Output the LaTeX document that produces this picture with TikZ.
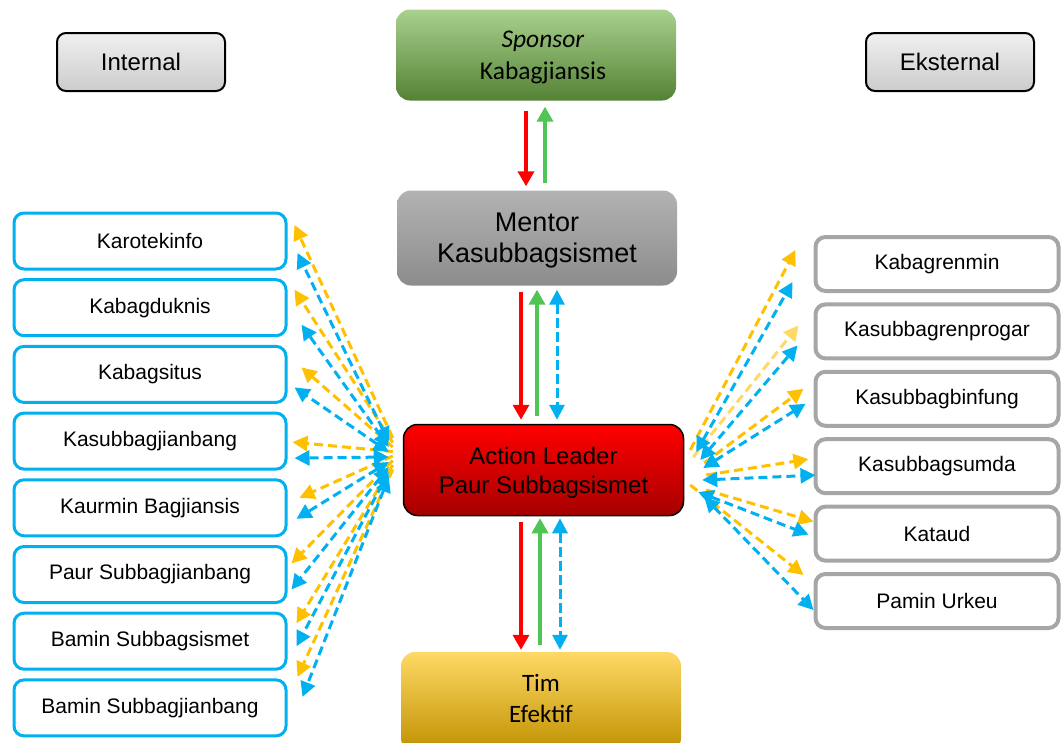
\documentclass[tikz,border=0pt]{standalone}
\usepackage{fontspec}
\setmainfont{Liberation Sans}
\newfontfamily\calibri{Carlito}
\usetikzlibrary{arrows.meta, positioning, calc}
\definecolor{intblue}{HTML}{00B0F0}
\definecolor{extgray}{HTML}{A6A6A6}
\definecolor{flowyel}{HTML}{FFC000}
\definecolor{paleyel}{HTML}{FFD966}
\definecolor{flowred}{HTML}{FF0000}
\definecolor{flowgreen}{HTML}{50C455}
\definecolor{sponlight}{HTML}{A9D18E}
\definecolor{spondark}{HTML}{548235}

\begin{document}
\begin{tikzpicture}[x=1pt, y=-1pt,
  core/.style={
    rectangle, rounded corners=14pt, minimum width=280pt, minimum height=91pt,
    align=center, font=\fontsize{25}{30}\selectfont
  },
  headbox/.style={
    rectangle, rounded corners=9pt, draw=black, line width=2pt,
    top color=gray!12, bottom color=gray!40,
    minimum width=168pt, minimum height=58pt, font=\fontsize{24}{28}\selectfont
  },
  intbox/.style={
    rectangle, rounded corners=10pt, draw=intblue, line width=3pt, fill=white,
    minimum width=272pt, minimum height=56pt, font=\fontsize{21}{25}\selectfont
  },
  extbox/.style={intbox, draw=extgray, line width=4pt, minimum width=243pt, minimum height=54pt},
  redarr/.style={-{Triangle[length=15pt, width=16pt]}, line width=3.5pt, flowred},
  greenarr/.style={redarr, flowgreen},
  yarr/.style={-{Triangle[length=15pt, width=15pt]}, line width=3pt, dash pattern=on 9pt off 5pt, flowyel},
  pyarr/.style={yarr, paleyel},
  barr/.style={{Triangle[length=15pt, width=15pt]}-{Triangle[length=15pt, width=15pt]}, line width=3pt, dash pattern=on 9pt off 5pt, intblue}
]
  \useasboundingbox (0,0) rectangle (1063,742);

  % centre column
  \node[core, top color=sponlight, bottom color=spondark, text depth=-10pt, font=\calibri\fontsize{25.5}{32}\selectfont] (spon) at (536,55) {\hspace*{14pt}\textit{Sponsor}\\\hspace*{14pt}Kabagjiansis};
  \node[core, top color=black!30, bottom color=black!45, minimum height=95pt, text depth=-7pt, font=\fontsize{27}{31}\selectfont] (ment) at (537,238) {Mentor\\Kasubbagsismet};
  \node[core, draw=black, line width=1.5pt, top color=flowred, bottom color=red!65!black, text depth=-5pt, font=\fontsize{24}{29}\selectfont] (act) at (543.5,470) {Action Leader\\Paur Subbagsismet};
  \node[core, top color=paleyel, middle color=flowyel, bottom color=flowyel!75!black, minimum height=100pt, text depth=8pt, font=\calibri\fontsize{25}{31}\selectfont] (tim) at (541,702) {Tim\\Efektif};

  \node[headbox] (int) at (141,62) {Internal};
  \node[headbox] (eks) at (950,62) {Eksternal};

  % internal
  \node[intbox] (k1) at (150,241) {Karotekinfo};
  \node[intbox, below=7.7pt of k1] (k2) {Kabagduknis};
  \node[intbox, below=7.7pt of k2] (k3) {Kabagsitus};
  \node[intbox, below=7.7pt of k3] (k4) {Kasubbagjianbang};
  \node[intbox, below=7.7pt of k4] (k5) {Kaurmin Bagjiansis};
  \node[intbox, below=7.7pt of k5] (k6) {Paur Subbagjianbang};
  \node[intbox, below=7.7pt of k6] (k7) {Bamin Subbagsismet};
  \node[intbox, below=7.7pt of k7] (k8) {Bamin Subbagjianbang};

  % eksternal
  \node[extbox] (e1) at (937,264) {Kabagrenmin};
  \node[extbox, below=9.4pt of e1] (e2) {Kasubbagrenprogar};
  \node[extbox, below=9.4pt of e2] (e3) {Kasubbagbinfung};
  \node[extbox, below=9.4pt of e3] (e4) {Kasubbagsumda};
  \node[extbox, below=9.4pt of e4] (e5) {Kataud};
  \node[extbox, below=9.4pt of e5] (e6) {Pamin Urkeu};

  % vertical flows
  \draw[redarr, shorten <=10pt, shorten >=4pt] ([xshift=-10pt]spon.south) -- ([xshift=-10pt]spon.south |- ment.north);
  \draw[greenarr, shorten <=7pt, shorten >=6pt] ([xshift=9pt]spon.south |- ment.north) -- ([xshift=9pt]spon.south);
  \draw[redarr, shorten <=6pt, shorten >=4pt] ([xshift=-16pt]ment.south) -- ([xshift=-16pt]ment.south |- act.north);
  \draw[greenarr, shorten <=8pt, shorten >=4pt] (ment.south |- act.north) -- (ment.south);
  \draw[barr, dash pattern=on 10pt off 4pt, shorten <=4pt, shorten >=4pt] ([xshift=20pt]ment.south) -- ([xshift=20pt]ment.south |- act.north);
  \draw[redarr, shorten <=6pt, shorten >=2pt] ([xshift=-22.5pt]act.south) -- ([xshift=-22.5pt]act.south |- tim.north);
  \draw[greenarr, shorten <=7pt, shorten >=2pt] ([xshift=-3.5pt]act.south |- tim.north) -- ([xshift=-3.5pt]act.south);
  \draw[barr, dash pattern=on 10pt off 4pt, shorten <=2pt, shorten >=2pt] ([xshift=16.5pt]act.south) -- ([xshift=16.5pt]act.south |- tim.north);

  % internal flows
  \draw[yarr] ($(act.west)+(-10,-32)$) -- ($(k1.east)+(7,-16)$);
  \draw[yarr] ($(act.west)+(-10,-27.5)$) -- ($(k2.east)+(7,-18)$);
  \draw[yarr] ($(act.west)+(-10,-23)$) -- ($(k3.east)+(14,-7)$);
  \draw[yarr] ($(act.west)+(-10,-18.5)$) -- ($(k4.east)+(5,1)$);
  \draw[yarr] ($(act.west)+(-10,-14)$) -- ($(k5.east)+(12,-10)$);
  \draw[yarr] ($(act.west)+(-10,-9.5)$) -- ($(k6.east)+(4,-11)$);
  \draw[yarr] ($(act.west)+(-10,-5)$) -- ($(k7.east)+(9,-18)$);
  \draw[yarr] ($(act.west)+(-10,-0.5)$) -- ($(k8.east)+(10,-31)$);
  \draw[barr] ($(act.west)+(-14,-28)$) -- ($(k1.east)+(10,12)$);
  \draw[barr] ($(act.west)+(-14,-23)$) -- ($(k2.east)+(14,17)$);
  \draw[barr] ($(act.west)+(-14,-18)$) -- ($(k3.east)+(7,13)$);
  \draw[barr] ($(act.west)+(-14,-13)$) -- ($(k4.east)+(7,17)$);
  \draw[barr] ($(act.west)+(-14,-8)$) -- ($(k5.east)+(9,11)$);
  \draw[barr] ($(act.west)+(-14,-3)$) -- ($(k6.east)+(4,15)$);
  \draw[barr] ($(act.west)+(-14,2)$) -- ($(k7.east)+(9,5)$);
  \draw[barr] ($(act.west)+(-14,7)$) -- ($(k8.east)+(15,-11)$);

  % eksternal flows
  \draw[yarr] ($(act.east)+(6,-20)$) -- ($(e1.west)+(-18,-14)$);
  \draw[pyarr] ($(act.east)+(9,-13)$) -- ($(e2.west)+(-15,-6)$);
  \draw[yarr] ($(act.east)+(20,-7)$) -- ($(e3.west)+(-10,-10)$);
  \draw[yarr] ($(act.east)+(22,5)$) -- ($(e4.west)+(-5,-7)$);
  \draw[yarr] ($(act.east)+(22,20)$) -- ($(e5.west)+(0,-12)$);
  \draw[yarr] ($(act.east)+(6,15)$) -- ($(e6.west)+(-10,-26)$);
  \draw[barr] ($(act.east)+(12,-18)$) -- ($(e1.west)+(-21,18)$);
  \draw[barr] ($(act.east)+(16,-10)$) -- ($(e2.west)+(-16,14)$);
  \draw[barr] ($(act.east)+(19,-2)$) -- ($(e3.west)+(-8,5)$);
  \draw[barr] ($(act.east)+(18,10)$) -- ($(e4.west)+(2,9)$);
  \draw[barr] ($(act.east)+(14,22)$) -- ($(e5.west)+(-5,1)$);
  \draw[barr] ($(act.east)+(20,27)$) -- ($(e6.west)+(0,9)$);
\end{tikzpicture}
\end{document}
